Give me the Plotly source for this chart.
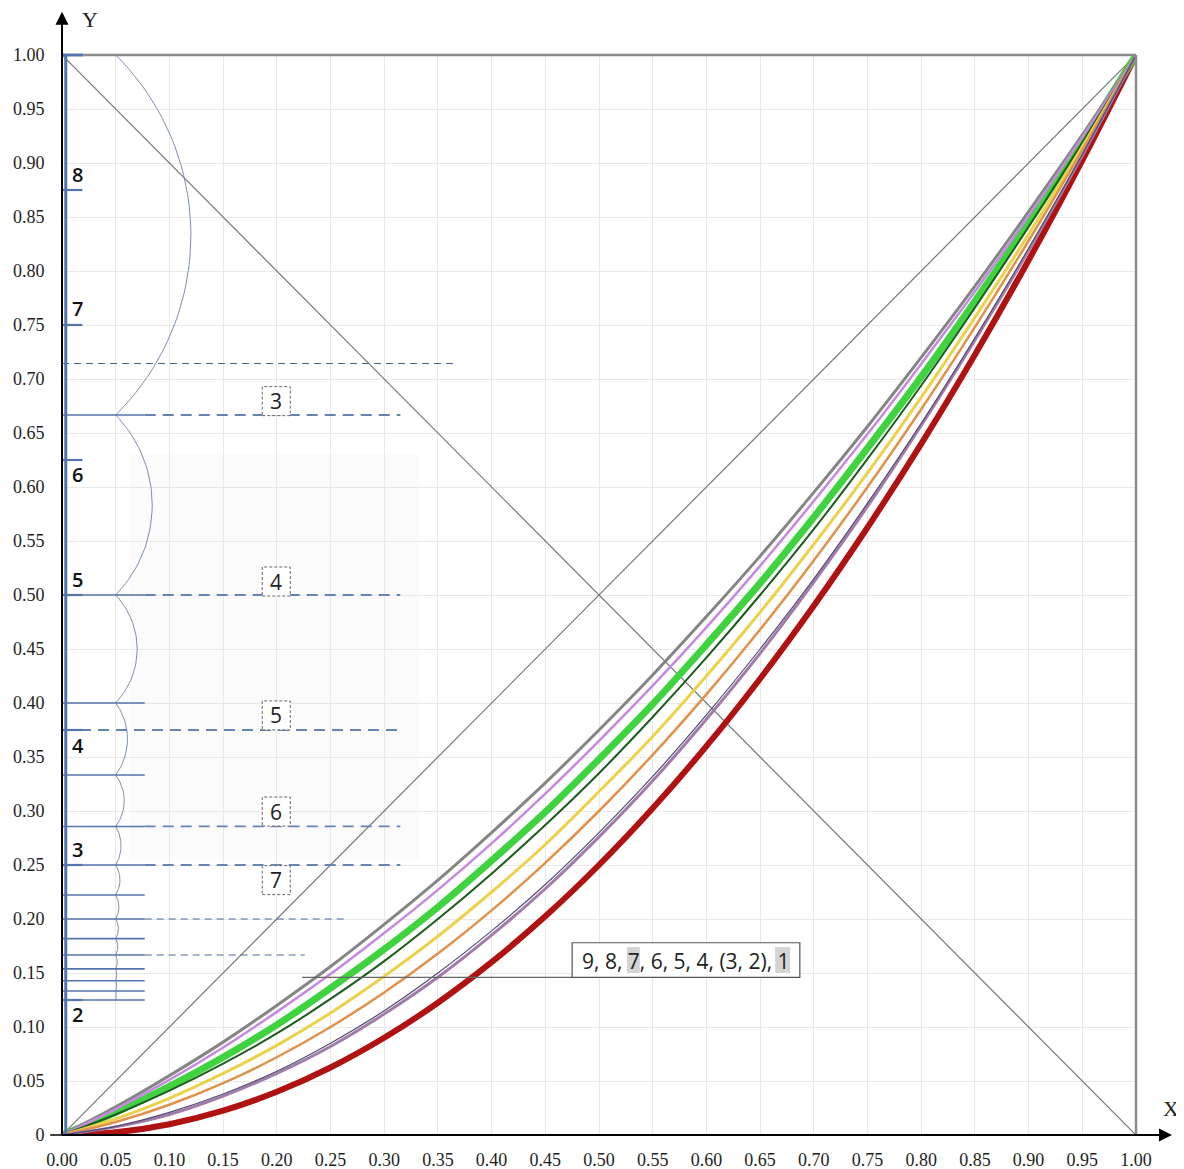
import math
import plotly.graph_objects as go

# ---------------- data ----------------
X = [0.00, 0.05, 0.10, 0.15, 0.20, 0.25, 0.30, 0.35, 0.40, 0.45, 0.50,
     0.55, 0.60, 0.65, 0.70, 0.75, 0.80, 0.85, 0.90, 0.95, 1.00]

Y9 = [0, 0.026, 0.055, 0.086, 0.120, 0.156, 0.195, 0.236, 0.280, 0.326, 0.375,
      0.426, 0.480, 0.536, 0.595, 0.656, 0.720, 0.786, 0.855, 0.926, 1.0]
Y8 = [0, 0.024, 0.051, 0.081, 0.114, 0.149, 0.187, 0.227, 0.270, 0.316, 0.365,
      0.416, 0.470, 0.527, 0.587, 0.649, 0.714, 0.781, 0.851, 0.924, 1.0]
Y7 = [0, 0.021, 0.045, 0.072, 0.102, 0.136, 0.172, 0.211, 0.254, 0.299, 0.348,
      0.399, 0.454, 0.511, 0.572, 0.636, 0.702, 0.772, 0.845, 0.921, 1.0]
Y6 = [0, 0.019, 0.041, 0.066, 0.094, 0.126, 0.161, 0.200, 0.242, 0.287, 0.335,
      0.387, 0.442, 0.500, 0.561, 0.626, 0.694, 0.766, 0.841, 0.919, 1.0]
Y5 = [0, 0.015, 0.034, 0.057, 0.083, 0.113, 0.147, 0.184, 0.225, 0.269, 0.318,
      0.369, 0.425, 0.484, 0.547, 0.613, 0.683, 0.757, 0.834, 0.915, 1.0]
Y4 = [0, 0.012, 0.028, 0.048, 0.072, 0.100, 0.132, 0.168, 0.208, 0.252, 0.300,
      0.352, 0.408, 0.468, 0.532, 0.600, 0.672, 0.748, 0.828, 0.912, 1.0]
Y3 = [0, 0.008, 0.021, 0.038, 0.059, 0.085, 0.115, 0.150, 0.189, 0.232, 0.280,
      0.332, 0.389, 0.450, 0.515, 0.585, 0.659, 0.738, 0.821, 0.908, 1.0]
Y2 = [0, 0.0075, 0.019, 0.036, 0.057, 0.082, 0.112, 0.146, 0.185, 0.228, 0.276,
      0.328, 0.385, 0.446, 0.512, 0.582, 0.657, 0.736, 0.819, 0.907, 1.0]
Y1 = [0, 0.0025, 0.010, 0.0225, 0.040, 0.0625, 0.090, 0.1225, 0.160, 0.2025, 0.250,
      0.3025, 0.360, 0.4225, 0.490, 0.5625, 0.640, 0.7225, 0.810, 0.9025, 1.0]

CURVE_NAMES = ["9", "8", "7", "6", "5", "4", "3", "2", "1"]
CURVE_COLORS = ["#858585", "#c58ae0", "#3fd43f", "#1d5c1d", "#ecd24a",
                "#e0924a", "#4f4f6e", "#a27aac", "#b01212"]
CURVE_WIDTHS = [3, 2.5, 7, 2, 3, 2.5, 1.2, 3, 6]

# harmonic levels 2/n on the left scale
LEVELS = [1, 2/3, 1/2, 2/5, 1/3, 2/7, 1/4, 2/9, 1/5, 2/11, 1/6, 2/13, 1/7, 2/15, 1/8]
ARC_BULGE = [0.120, 0.084, 0.070, 0.061, 0.058, 0.055, 0.054, 0.053,
             0.0525, 0.052, 0.0515, 0.051, 0.051, 0.0505]
SHORT_END = 0.077

DASH_LEVELS = [2/3, 1/2, 3/8, 2/7, 1/4]
DASH_START = [0.077, 0.077, 0.0, 0.077, 0.077]
DASH_END = [0.315, 0.315, 0.315, 0.315, 0.315]

THIN_DASH_LEVELS = [5/7, 1/5, 1/6]
THIN_DASH_START = [0.0, 0.077, 0.077]
THIN_DASH_END = [0.366, 0.264, 0.226]

SCALE_TICKS = [0.875, 0.75, 0.625, 0.5, 0.375, 0.25, 0.125]
SCALE_LABELS = ["8", "7", "6", "5", "4", "3", "2"]
SCALE_LABEL_Y = [0.889, 0.765, 0.612, 0.514, 0.361, 0.264, 0.112]

BOX_LABELS = ["3", "4", "5", "6", "7"]
BOX_Y = [0.6795, 0.5125, 0.3885, 0.2995, 0.236]
BOX_X = 0.1995

LEGEND_TEXT = "9, 8, 7, 6, 5, 4, (3, 2), 1"
TICKS = [i / 20 for i in range(21)]
X_TICK_TEXT = ["%.2f" % t for t in TICKS]
Y_TICK_TEXT = ["0"] + ["%.2f" % t for t in TICKS[1:]]

# ---------------- figure ----------------
SX, SY = 1074.0, 1080.0  # pixels per data unit
BLUE = "#5275ad"
ARC = "#7b8fb8"

fig = go.Figure()

# faint background panel
fig.add_shape(type="rect", xref="x", yref="y", x0=0.063, x1=0.333, y0=0.255, y1=0.63,
              fillcolor="rgba(0,0,0,0.016)", line_width=0, layer="below")

# diagonals
fig.add_trace(go.Scatter(x=[0, 1], y=[0, 1], mode="lines",
                         line=dict(color="#777777", width=1.2), hoverinfo="skip"))
fig.add_trace(go.Scatter(x=[0, 1], y=[1, 0], mode="lines",
                         line=dict(color="#777777", width=1.2), hoverinfo="skip"))

# curves (thick ones first)
series = [Y9, Y8, Y7, Y6, Y5, Y4, Y3, Y2, Y1]
order = [8, 2, 0, 1, 3, 4, 5, 7, 6]
for i in order:
    fig.add_trace(go.Scatter(x=X, y=series[i], mode="lines", name=CURVE_NAMES[i],
                             line=dict(color=CURVE_COLORS[i], width=CURVE_WIDTHS[i],
                                       shape="spline", smoothing=1.0),
                             hoverinfo="skip"))

# arcs between consecutive levels
for k in range(len(LEVELS) - 1):
    ya, yb = LEVELS[k], LEVELS[k + 1]
    h = (ya - yb) / 2 * SY
    s = (ARC_BULGE[k] - 0.05) * SX
    R = (h * h + s * s) / (2 * s)
    cxp = ARC_BULGE[k] * SX - R
    ym = (ya + yb) / 2
    a = math.asin(h / R)
    ax, ay = [], []
    for j in range(41):
        t = -a + 2 * a * j / 40
        ax.append((cxp + R * math.cos(t)) / SX)
        ay.append(ym + R * math.sin(t) / SY)
    fig.add_trace(go.Scatter(x=ax, y=ay, mode="lines", line=dict(color=ARC, width=1),
                             hoverinfo="skip"))

# short solid level lines
for lv in LEVELS[1:]:
    fig.add_shape(type="line", xref="x", yref="y", x0=0, x1=SHORT_END, y0=lv, y1=lv,
                  line=dict(color=BLUE, width=1.6))

# long dashed lines
for lv, x0, x1 in zip(DASH_LEVELS, DASH_START, DASH_END):
    fig.add_shape(type="line", xref="x", yref="y", x0=x0, x1=x1, y0=lv, y1=lv,
                  line=dict(color="#6683b3", width=1.8, dash="11px,7px"))
for lv, x0, x1 in zip(THIN_DASH_LEVELS, THIN_DASH_START, THIN_DASH_END):
    fig.add_shape(type="line", xref="x", yref="y", x0=x0, x1=x1, y0=lv, y1=lv,
                  line=dict(color="#4a6699", width=1.1, dash="7px,5px"))

# vertical blue scale line and its ticks
fig.add_shape(type="line", xref="x", yref="y", x0=0.0035, x1=0.0035, y0=0, y1=1,
              line=dict(color=BLUE, width=3))
fig.add_shape(type="line", xref="paper", yref="paper", x0=0, x1=0.02, y0=1, y1=1,
              line=dict(color=BLUE, width=3))
for tv in SCALE_TICKS:
    fig.add_shape(type="line", xref="x", yref="y", x0=0, x1=0.019, y0=tv, y1=tv,
                  line=dict(color=BLUE, width=2.2))
for lab, ly in zip(SCALE_LABELS, SCALE_LABEL_Y):
    fig.add_annotation(x=0.0145, y=ly, xref="x", yref="y", text=lab, showarrow=False,
                       font=dict(family="Open Sans", size=20, color="#111111", weight=600))

# border top / right
fig.add_shape(type="line", xref="paper", yref="paper", x0=0.02, x1=1, y0=1, y1=1,
              line=dict(color="#8c8c8c", width=2.5))
fig.add_shape(type="line", xref="paper", yref="paper", x0=1, x1=1, y0=0, y1=1,
              line=dict(color="#8c8c8c", width=2.5))

# dashed label boxes
BW, BH = 28 / SX, 29 / SY
for lab, by in zip(BOX_LABELS, BOX_Y):
    fig.add_shape(type="rect", xref="x", yref="y", x0=BOX_X - BW / 2, x1=BOX_X + BW / 2,
                  y0=by - BH / 2, y1=by + BH / 2, fillcolor="white",
                  line=dict(color="#666666", width=1, dash="3px,2px"), layer="above")
    fig.add_annotation(x=BOX_X, y=by, xref="x", yref="y", text=lab, showarrow=False,
                       font=dict(family="Open Sans", size=21, color="#222222"))

# legend-like label box with leader line
LY0, LY1 = 0.146, 0.178
LX0, LX1 = 0.475, 0.687
fig.add_shape(type="line", xref="x", yref="y", x0=0.2235, x1=LX0, y0=LY0, y1=LY0,
              line=dict(color="#666666", width=1.2), layer="above")
fig.add_shape(type="rect", xref="x", yref="y", x0=LX0, x1=LX1, y0=LY0, y1=LY1,
              fillcolor="white", line=dict(color="#555555", width=1.2), layer="above")
for hx0, hx1 in [(0.526, 0.538), (0.664, 0.678)]:
    fig.add_shape(type="rect", xref="x", yref="y", x0=hx0, x1=hx1, y0=LY0 + 0.004,
                  y1=LY1 - 0.004, fillcolor="#d4d4d4", line_width=0, layer="above")
fig.add_annotation(x=(LX0 + LX1) / 2, y=(LY0 + LY1) / 2 - 0.001, xref="x", yref="y",
                   text=LEGEND_TEXT, showarrow=False,
                   font=dict(family="Open Sans", size=21, color="#222222"))

# axes with arrows
fig.add_shape(type="line", xref="paper", yref="paper", x0=0, x1=1.025, y0=0, y1=0,
              line=dict(color="black", width=2))
fig.add_shape(type="line", xref="paper", yref="paper", x0=0, x1=0, y0=0, y1=1.03,
              line=dict(color="black", width=2))
fig.add_shape(type="line", xref="paper", yref="paper", x0=-0.011, x1=0.004, y0=0, y1=0,
              line=dict(color="black", width=1.5))
fig.add_annotation(x=1.0335, y=0, xref="paper", yref="paper", ax=-24, ay=0,
                   axref="pixel", ayref="pixel", text="", showarrow=True,
                   arrowhead=2, arrowsize=1.3, arrowwidth=2, arrowcolor="black")
fig.add_annotation(x=0, y=1.04, xref="paper", yref="paper", ax=0, ay=24,
                   axref="pixel", ayref="pixel", text="", showarrow=True,
                   arrowhead=2, arrowsize=1.3, arrowwidth=2, arrowcolor="black")
fig.add_annotation(x=1.0325, y=0.025, xref="paper", yref="paper", text="X",
                   xanchor="center", yanchor="middle", showarrow=False,
                   font=dict(family="Liberation Serif", size=22, color="#222"))
fig.add_annotation(x=0.026, y=1.033, xref="paper", yref="paper", text="Y",
                   xanchor="center", yanchor="middle", showarrow=False,
                   font=dict(family="Liberation Serif", size=22, color="#222"))

fig.update_xaxes(range=[0, 1], tickvals=TICKS, ticktext=X_TICK_TEXT, showgrid=True,
                 gridcolor="#e9e9e9", gridwidth=1, zeroline=False, showline=False,
                 ticks="outside", ticklen=8, tickcolor="rgba(0,0,0,0)", automargin=False,
                 tickfont=dict(family="Liberation Serif", size=18, color="#1e1e1e"),
                 fixedrange=True)
fig.update_yaxes(range=[0, 1], tickvals=TICKS, ticktext=Y_TICK_TEXT, showgrid=True,
                 gridcolor="#e9e9e9", gridwidth=1, zeroline=False, showline=False,
                 ticks="outside", ticklen=13, tickcolor="rgba(0,0,0,0)", automargin=False,
                 tickfont=dict(family="Liberation Serif", size=18, color="#1e1e1e"),
                 fixedrange=True)

fig.update_layout(width=1176, height=1161, showlegend=False,
                  margin=dict(l=54, r=48, t=47, b=34, pad=0),
                  plot_bgcolor="white", paper_bgcolor="white")

fig.write_html("out.html")
